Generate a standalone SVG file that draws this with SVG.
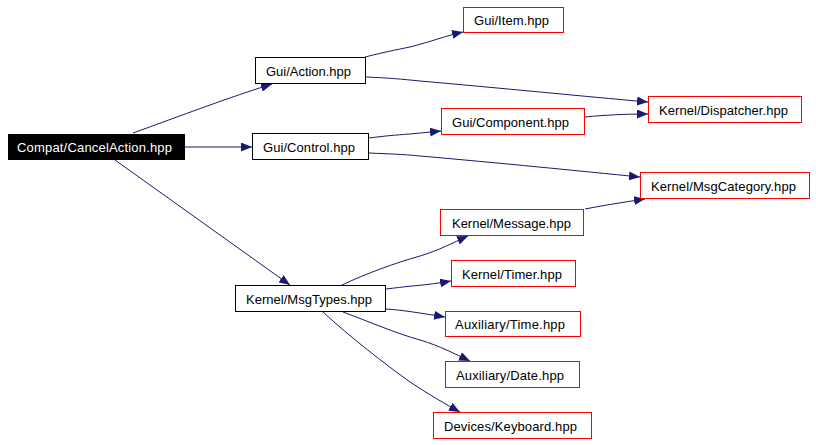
<svg xmlns="http://www.w3.org/2000/svg" width="816" height="445" viewBox="0 0 816 445">
<style>
.n rect{fill:#fff;stroke:#000;stroke-width:1}
.r rect{stroke:#f00}
text{font-family:"Liberation Sans",Arial,sans-serif;font-size:13px;fill:#000}
#edges path{fill:none;stroke:#191970;stroke-width:1;marker-end:url(#a)}
</style>
<defs>
<marker id="a" markerWidth="11" markerHeight="9" refX="11" refY="4.5" orient="auto" markerUnits="userSpaceOnUse"><path d="M0,0 L11,4.5 L0,9 z" fill="#191970"/></marker>
</defs>
<rect width="816" height="445" fill="#fff"/>
<g id="edges">
<path d="M133,133 C180,116 230,97 272,84"/>
<path d="M185,147 L252,147"/>
<path d="M115,160 L290,285"/>
<path d="M365,57 C385,52 395,50 410,47 C430,42 445,36 463,32"/>
<path d="M366,77 C390,78 400,79 420,81 C500,88 580,96 648,102"/>
<path d="M369,138 C385,136 395,135 410,134 L441,131"/>
<path d="M369,153 C390,154 400,154 420,156 C500,163 580,171 640,177"/>
<path d="M585,117 C605,115 625,114 648,114"/>
<path d="M585,209 C605,205 625,202 645,199"/>
<path d="M342,285 C365,274 395,263 420,256 C440,250 452,243 468,236"/>
<path d="M386,289 C395,288 402,287 412,286 C425,285 440,283 451,281"/>
<path d="M386,309 C402,310 420,313 445,317"/>
<path d="M343,312 C370,322 395,333 420,340 C440,346 455,354 470,361"/>
<path d="M323,312 C350,337 385,364 410,382 C430,395 445,404 460,412"/>
</g>
<g id="compat"><rect x="8.5" y="134.5" width="176" height="25" fill="#000" stroke="#000"/><text x="17" y="151.5" textLength="155" lengthAdjust="spacing" style="fill:#fff">Compat/CancelAction.hpp</text></g>
<g id="gui_action" class="n"><rect x="255.5" y="57.5" width="110" height="26"/><text x="266" y="75.5" textLength="85" lengthAdjust="spacing">Gui/Action.hpp</text></g>
<g id="gui_control" class="n"><rect x="252.5" y="133.5" width="116" height="26"/><text x="263" y="151.5" textLength="92" lengthAdjust="spacing">Gui/Control.hpp</text></g>
<g id="kernel_msgtypes" class="n"><rect x="235.5" y="285.5" width="150" height="26"/><text x="246" y="303.5" textLength="126" lengthAdjust="spacing">Kernel/MsgTypes.hpp</text></g>
<g id="gui_item" class="n r"><rect x="463.5" y="7.5" width="100" height="25"/><text x="474" y="25" textLength="75" lengthAdjust="spacing">Gui/Item.hpp</text></g>
<g id="kernel_dispatcher" class="n r"><rect x="648.5" y="96.5" width="153" height="26"/><text x="659" y="114.5" textLength="129" lengthAdjust="spacing">Kernel/Dispatcher.hpp</text></g>
<g id="gui_component" class="n r"><rect x="441.5" y="108.5" width="143" height="26"/><text x="452" y="126.5" textLength="117" lengthAdjust="spacing">Gui/Component.hpp</text></g>
<g id="kernel_msgcategory" class="n r"><rect x="640.5" y="172.5" width="169" height="26"/><text x="651" y="190.5" textLength="145" lengthAdjust="spacing">Kernel/MsgCategory.hpp</text></g>
<g id="kernel_message" class="n r"><rect x="440.5" y="209.5" width="143" height="26"/><text x="452" y="227.5" textLength="119" lengthAdjust="spacing">Kernel/Message.hpp</text></g>
<g id="kernel_timer" class="n r"><rect x="451.5" y="260.5" width="124" height="26"/><text x="462" y="278.5" textLength="100" lengthAdjust="spacing">Kernel/Timer.hpp</text></g>
<g id="aux_time" class="n r"><rect x="445.5" y="311.5" width="135" height="25"/><text x="455" y="329" textLength="110" lengthAdjust="spacing">Auxiliary/Time.hpp</text></g>
<g id="aux_date" class="n r"><rect x="445.5" y="361.5" width="134" height="26"/><text x="456" y="379.5" textLength="108" lengthAdjust="spacing">Auxiliary/Date.hpp</text></g>
<g id="devices_keyboard" class="n r"><rect x="433.5" y="412.5" width="158" height="26"/><text x="444" y="430.5" textLength="133" lengthAdjust="spacing">Devices/Keyboard.hpp</text></g>
</svg>
